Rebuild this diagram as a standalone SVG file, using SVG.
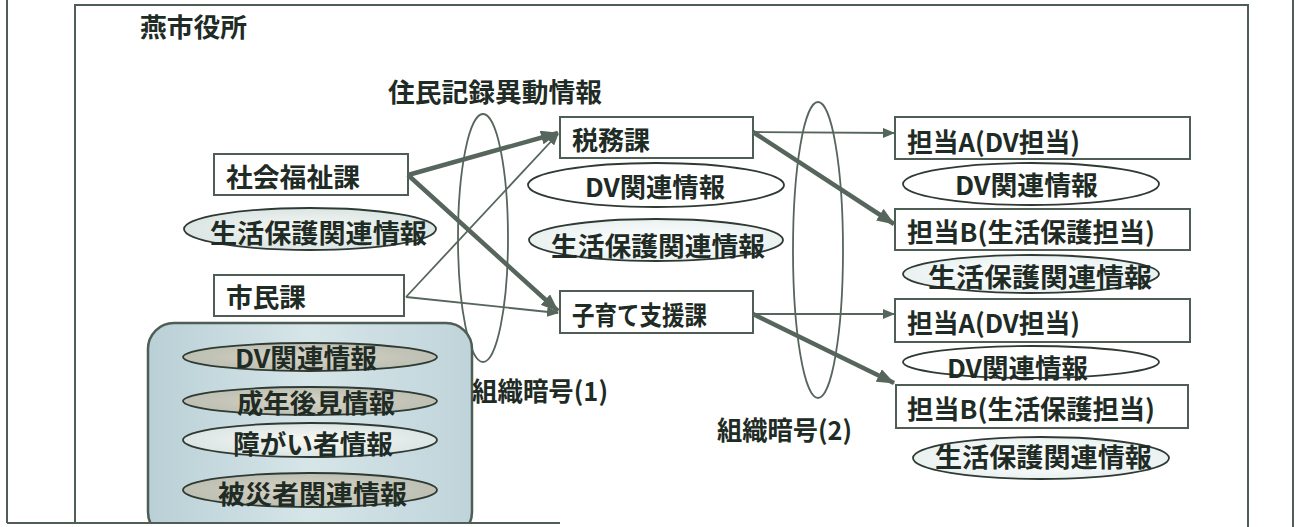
<svg xmlns="http://www.w3.org/2000/svg" width="1297" height="527" viewBox="0 0 1297 527">
<style>
.t{font-family:"Noto Sans CJK JP","Noto Sans CJK SC",sans-serif;font-weight:bold;fill:#1f2b25;font-size:26px}
.box{fill:#fff;stroke:#4e5e54;stroke-width:2}
.ell{stroke:#2f3a33;stroke-width:1.8}
.frame{fill:none;stroke:#4e5e54;stroke-width:2}
.thick{stroke:#56665c;stroke-width:4.5;fill:none}
.thin{stroke:#56665c;stroke-width:1.8;fill:none}
.ring{fill:none;stroke:#56665c;stroke-width:1.8}
</style>
<defs>
<marker id="ah" markerUnits="userSpaceOnUse" markerWidth="18" markerHeight="14" refX="17" refY="7" orient="auto"><path d="M0,0 L18,7 L0,14 z" fill="#56665c"/></marker>
<marker id="ahs" markerUnits="userSpaceOnUse" markerWidth="12" markerHeight="10" refX="11" refY="5" orient="auto"><path d="M0,0 L12,5 L0,10 z" fill="#56665c"/></marker>
<linearGradient id="cont" x1="0" y1="0" x2="1" y2="0"><stop offset="0" stop-color="#b9d0d6"/><stop offset="0.5" stop-color="#d6e5e8"/><stop offset="1" stop-color="#bfd4da"/></linearGradient>
<radialGradient id="gray" cx="0.5" cy="0.5" r="0.6"><stop offset="0" stop-color="#d6d2c4"/><stop offset="1" stop-color="#b8bcb0"/></radialGradient>
<radialGradient id="light" cx="0.5" cy="0.5" r="0.6"><stop offset="0" stop-color="#f8f8f2"/><stop offset="1" stop-color="#d5e2e2"/></radialGradient>
<radialGradient id="pale" cx="0.5" cy="0.5" r="0.6"><stop offset="0" stop-color="#ffffff"/><stop offset="1" stop-color="#e6eeee"/></radialGradient>
<clipPath id="cut"><rect x="0" y="0" width="1297" height="523"/></clipPath>
</defs>
<rect width="1297" height="527" fill="#fff"/>
<g id="frame">
<line class="frame" x1="7" y1="0" x2="7" y2="523"/>
<line class="frame" x1="1293" y1="0" x2="1293" y2="527"/>
<polyline class="frame" points="75,523 75,5 1248,5 1248,527" stroke-width="1.6"/>
</g>
<g id="title"><text class="t" x="140" y="37" textLength="107" lengthAdjust="spacingAndGlyphs">燕市役所</text></g>
<g id="label-jumin"><text class="t" x="388" y="102" textLength="214" lengthAdjust="spacingAndGlyphs">住民記録異動情報</text></g>
<g id="code1"><ellipse class="ring" cx="483" cy="238" rx="25" ry="124"/></g>
<g id="code2"><ellipse class="ring" cx="818" cy="250" rx="25" ry="148"/></g>
<g id="shakai-fukushi">
<rect class="box" x="214" y="154" width="194" height="41"/>
<text class="t" x="226" y="187" textLength="134" lengthAdjust="spacingAndGlyphs">社会福祉課</text>
<ellipse class="ell" cx="310" cy="229" rx="126" ry="21" fill="url(#light)"/>
<text class="t" x="210" y="243" textLength="217" lengthAdjust="spacingAndGlyphs">生活保護関連情報</text>
</g>
<g id="shimin">
<rect class="box" x="214" y="275" width="190" height="41"/>
<text class="t" x="226" y="307" textLength="80" lengthAdjust="spacingAndGlyphs">市民課</text>
</g>
<g id="shimin-info" clip-path="url(#cut)">
<rect x="148" y="323" width="324" height="215" rx="26" fill="url(#cont)" stroke="#4e5e54" stroke-width="2.5"/>
<ellipse class="ell" cx="310" cy="357" rx="127" ry="14" fill="url(#gray)"/>
<text class="t" x="235" y="368" textLength="142" lengthAdjust="spacingAndGlyphs">DV関連情報</text>
<ellipse class="ell" cx="310" cy="401" rx="127" ry="14" fill="url(#gray)"/>
<text class="t" x="237" y="413" textLength="158" lengthAdjust="spacingAndGlyphs">成年後見情報</text>
<ellipse class="ell" cx="310" cy="440" rx="127" ry="17" fill="url(#light)"/>
<text class="t" x="233" y="454" textLength="160" lengthAdjust="spacingAndGlyphs">障がい者情報</text>
<ellipse class="ell" cx="310" cy="490" rx="127" ry="17" fill="url(#gray)"/>
<text class="t" x="218" y="504" textLength="189" lengthAdjust="spacingAndGlyphs">被災者関連情報</text>
</g>
<line x1="7" y1="523" x2="560" y2="523" stroke="#4e5e54" stroke-width="2"/>
<g id="zeimu">
<rect class="box" x="560" y="117" width="193" height="41"/>
<text class="t" x="572" y="150" textLength="78" lengthAdjust="spacingAndGlyphs">税務課</text>
<ellipse class="ell" cx="656" cy="185" rx="128" ry="22" fill="#fff"/>
<text class="t" x="585" y="197" textLength="140" lengthAdjust="spacingAndGlyphs">DV関連情報</text>
<ellipse class="ell" cx="656" cy="240" rx="127" ry="21" fill="url(#pale)"/>
<text class="t" x="551" y="256" textLength="214" lengthAdjust="spacingAndGlyphs">生活保護関連情報</text>
</g>
<g id="kosodate">
<rect class="box" x="560" y="291" width="193" height="42"/>
<text class="t" x="572" y="325" textLength="135" lengthAdjust="spacingAndGlyphs">子育て支援課</text>
</g>
<g id="tantoA1">
<rect class="box" x="895" y="117" width="295" height="42"/>
<text class="t" x="907" y="152" textLength="173" lengthAdjust="spacingAndGlyphs">担当A(DV担当)</text>
<ellipse class="ell" cx="1031" cy="184" rx="128" ry="21" fill="#fff"/>
<text class="t" x="955" y="195" textLength="143" lengthAdjust="spacingAndGlyphs">DV関連情報</text>
</g>
<g id="tantoB1">
<rect class="box" x="895" y="209" width="295" height="41"/>
<text class="t" x="907" y="242" textLength="248" lengthAdjust="spacingAndGlyphs">担当B(生活保護担当)</text>
<ellipse class="ell" cx="1031" cy="274" rx="128" ry="19" fill="url(#pale)"/>
<text class="t" x="928" y="287" textLength="224" lengthAdjust="spacingAndGlyphs">生活保護関連情報</text>
</g>
<g id="tantoA2">
<rect class="box" x="895" y="299" width="295" height="43"/>
<text class="t" x="907" y="333" textLength="173" lengthAdjust="spacingAndGlyphs">担当A(DV担当)</text>
<ellipse class="ell" cx="1031" cy="362" rx="128" ry="16" fill="#fff"/>
<text class="t" x="947" y="378" textLength="141" lengthAdjust="spacingAndGlyphs">DV関連情報</text>
</g>
<g id="tantoB2">
<rect class="box" x="896" y="385" width="292" height="43" stroke="#6a726c"/>
<text class="t" x="907" y="419" textLength="248" lengthAdjust="spacingAndGlyphs">担当B(生活保護担当)</text>
<ellipse class="ell" cx="1041" cy="458" rx="128" ry="21" fill="url(#pale)"/>
<text class="t" x="935" y="467" textLength="217" lengthAdjust="spacingAndGlyphs">生活保護関連情報</text>
</g>
<g id="labels">
<text class="t" x="472" y="401" textLength="136" lengthAdjust="spacingAndGlyphs">組織暗号(1)</text>
<text class="t" x="717" y="440" textLength="135" lengthAdjust="spacingAndGlyphs">組織暗号(2)</text>
</g>
<g id="connectors">
<line class="thick" x1="408" y1="175" x2="558" y2="133" marker-end="url(#ah)"/>
<line class="thick" x1="408" y1="175" x2="558" y2="311" marker-end="url(#ah)"/>
<line class="thin" x1="406" y1="297" x2="558" y2="134" marker-end="url(#ahs)"/>
<line class="thin" x1="406" y1="297" x2="558" y2="313" marker-end="url(#ahs)"/>
<line class="thin" x1="753" y1="132" x2="894" y2="133" marker-end="url(#ahs)"/>
<line class="thick" x1="753" y1="132" x2="894" y2="224" marker-end="url(#ah)"/>
<line class="thin" x1="753" y1="314" x2="894" y2="314" marker-end="url(#ahs)"/>
<line class="thick" x1="753" y1="314" x2="894" y2="383" marker-end="url(#ah)"/>
</g>
</svg>
